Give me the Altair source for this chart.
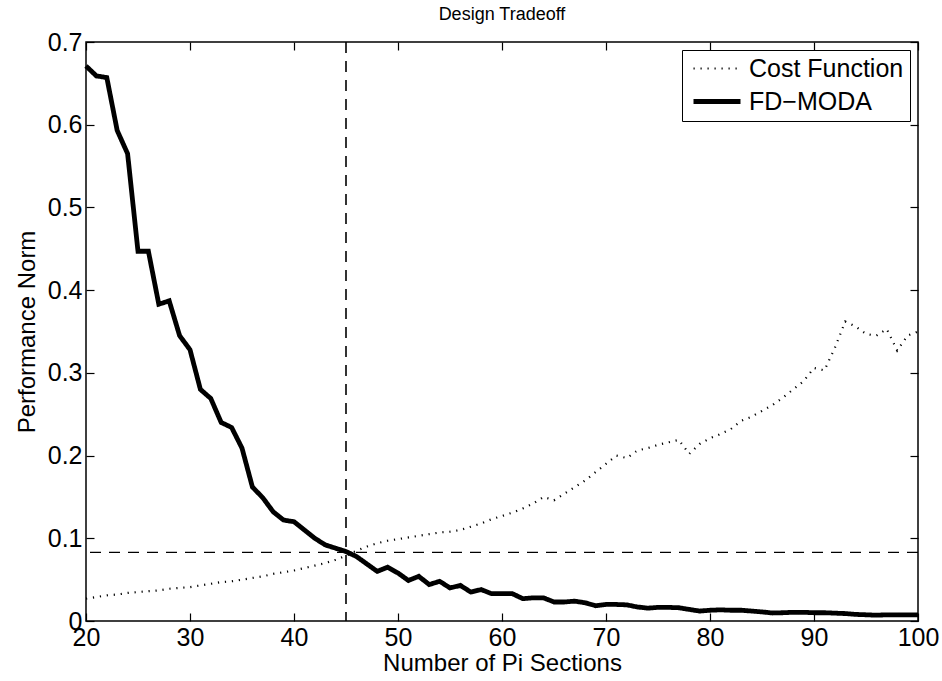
import altair as alt
import pandas as pd

X_VALUES = list(range(20, 101))

FD_MODA = [
    0.671, 0.659, 0.657, 0.593, 0.565, 0.447, 0.447, 0.383, 0.387, 0.345,
    0.328, 0.280, 0.269, 0.240, 0.234, 0.209, 0.162, 0.149, 0.132, 0.122,
    0.120, 0.110, 0.100, 0.092, 0.088, 0.084, 0.078, 0.069, 0.060, 0.065,
    0.058, 0.049, 0.054, 0.044, 0.048, 0.040, 0.043, 0.035, 0.038, 0.033,
    0.033, 0.033, 0.027, 0.028, 0.028, 0.023, 0.023, 0.024, 0.022, 0.0185,
    0.020, 0.020, 0.0195, 0.017, 0.0155, 0.0165, 0.0165, 0.016, 0.014, 0.012,
    0.013, 0.0135, 0.013, 0.013, 0.012, 0.011, 0.0097, 0.010, 0.0105, 0.0105,
    0.010, 0.010, 0.0095, 0.009, 0.008, 0.0075, 0.007, 0.0075, 0.0075, 0.0075,
    0.0075,
]

COST_FUNCTION = [
    0.027, 0.029, 0.031, 0.032, 0.034, 0.035, 0.036, 0.037, 0.039, 0.040,
    0.041, 0.043, 0.045, 0.047, 0.048, 0.050, 0.052, 0.054, 0.057, 0.059,
    0.061, 0.064, 0.067, 0.070, 0.074, 0.079, 0.085, 0.090, 0.094, 0.097,
    0.099, 0.101, 0.103, 0.105, 0.107, 0.108, 0.110, 0.114, 0.118, 0.123,
    0.127, 0.131, 0.136, 0.142, 0.150, 0.146, 0.154, 0.162, 0.170, 0.180,
    0.190, 0.200, 0.197, 0.206, 0.209, 0.213, 0.216, 0.219, 0.202, 0.214,
    0.221, 0.226, 0.232, 0.242, 0.247, 0.254, 0.261, 0.270, 0.280, 0.290,
    0.306, 0.303, 0.330, 0.362, 0.356, 0.347, 0.345, 0.353, 0.327, 0.345,
    0.350,
]

SERIES = ["Cost Function", "FD\u2212MODA"]
REF_X = [45]
REF_Y = [0.083]
X_TICKS = [20, 30, 40, 50, 60, 70, 80, 90, 100]
Y_TICKS = [0, 0.1, 0.2, 0.3, 0.4, 0.5, 0.6, 0.7]

df = pd.DataFrame({
    "x": X_VALUES + X_VALUES,
    "y": COST_FUNCTION + FD_MODA,
    "series": [SERIES[0]] * len(X_VALUES) + [SERIES[1]] * len(X_VALUES),
})
ref_x_df = pd.DataFrame({"rx": REF_X})
ref_y_df = pd.DataFrame({"ry": REF_Y})

FONT = "Liberation Sans"
xscale = alt.Scale(domain=[20, 100], nice=False, zero=False)
yscale = alt.Scale(domain=[0, 0.7], nice=False, zero=False)

x_axis = alt.Axis(
    orient="bottom", values=X_TICKS, title="Number of Pi Sections", ticks=False,
    domain=False, grid=False, labelFontSize=25, titleFontSize=24, labelFont=FONT,
    titleFont=FONT, labelColor="black", titleColor="black", titleFontWeight="normal",
    labelPadding=4, titlePadding=1, labelFlush=False, labelOverlap=False,
)
y_axis = alt.Axis(
    orient="left", values=Y_TICKS, title="Performance Norm", ticks=False, format=".1~f",
    domain=False, grid=False, labelFontSize=25, titleFontSize=24, labelFont=FONT,
    titleFont=FONT, labelColor="black", titleColor="black", titleFontWeight="normal",
    labelPadding=4, titlePadding=8, labelOverlap=False,
)


def tick_axis(orient, values):
    return alt.Axis(
        orient=orient, values=values, offset=-8, tickSize=8, labels=False,
        domain=False, grid=False, title=None, ticks=True, tickColor="black",
        tickWidth=1.2,
    )


leg = alt.Legend(
    title=None, orient="none", legendX=596, legendY=8,
    symbolType="M-0.7,0H4", symbolSize=400, labelFontSize=25, labelFont=FONT,
    labelColor="black", padding=6, rowPadding=7, strokeColor="black",
    fillColor="white", labelOffset=36, labelLimit=400,
)

lines = alt.Chart(df).mark_line(strokeCap="butt").encode(
    x=alt.X("x:Q", scale=xscale, axis=x_axis),
    y=alt.Y("y:Q", scale=yscale, axis=y_axis),
    color=alt.Color("series:N", scale=alt.Scale(domain=SERIES, range=["black", "black"]), legend=leg),
    strokeDash=alt.StrokeDash("series:N", scale=alt.Scale(domain=SERIES, range=[[1.2, 5.8], [1, 0]]), legend=leg),
    strokeWidth=alt.StrokeWidth("series:N", scale=alt.Scale(domain=SERIES, range=[2.2, 4.8]), legend=leg),
)

ticks_bl = alt.Chart(df).mark_point(opacity=0).encode(
    x=alt.X("x:Q", scale=xscale, axis=tick_axis("bottom", X_TICKS)),
    y=alt.Y("y:Q", scale=yscale, axis=tick_axis("left", Y_TICKS)),
)
ticks_tr = alt.Chart(df).mark_point(opacity=0).encode(
    x=alt.X("x:Q", scale=xscale, axis=tick_axis("top", X_TICKS)),
    y=alt.Y("y:Q", scale=yscale, axis=tick_axis("right", Y_TICKS)),
)

vrule = alt.Chart(ref_x_df).mark_rule(color="black", strokeWidth=1.6, strokeDash=[11, 8]).encode(
    x=alt.X("rx:Q", scale=xscale, axis=None),
)
hrule = alt.Chart(ref_y_df).mark_rule(color="black", strokeWidth=1.2, strokeDash=[11, 8]).encode(
    y=alt.Y("ry:Q", scale=yscale, axis=None),
)

chart = alt.layer(lines, vrule, hrule, ticks_bl, ticks_tr).resolve_axis(
    x="independent", y="independent"
).properties(
    width=832, height=579,
    title=alt.TitleParams("Design Tradeoff", fontSize=18, font=FONT, fontWeight="normal", offset=6, color="black"),
    autosize=alt.AutoSizeParams(type="none"),
    padding={"left": 86, "top": 42, "right": 24, "bottom": 60},
    background="white",
).configure_view(stroke="black", strokeWidth=1.5)

chart.save("out.html", embed_options={"renderer": "svg", "actions": False})
